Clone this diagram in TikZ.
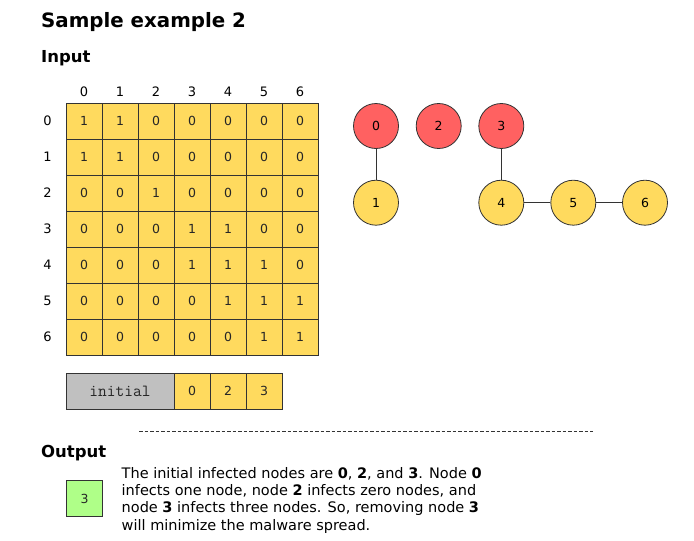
\documentclass[tikz,border=0pt]{standalone}
\usepackage{fontspec}
\setmainfont{DejaVu Sans}
\definecolor{cellyellow}{HTML}{FFDA5E}
\definecolor{nodered}{HTML}{FF6161}
\definecolor{cellgrey}{HTML}{C0C0C0}
\definecolor{cellgreen}{HTML}{AFFF88}
\definecolor{edgecol}{HTML}{333333}
\begin{document}
\begin{tikzpicture}[x=1pt,y=-1pt,
  cell/.style={draw=edgecol,line width=0.9pt,fill=cellyellow,minimum width=36pt,minimum height=36pt,inner sep=0pt,font=\fontsize{12.5}{12.5}\selectfont,text=black!85},
  lbl/.style={inner sep=0pt,font=\fontsize{13}{13}\selectfont},
  gnode/.style={circle,draw=edgecol,line width=0.8pt,minimum size=45pt,inner sep=0pt,font=\fontsize{12.5}{12.5}\selectfont},
  red/.style={gnode,fill=nodered},
  yel/.style={gnode,fill=cellyellow},
  edge/.style={draw=edgecol,line width=0.9pt},
  heading/.style={anchor=base west,inner sep=0pt,font=\bfseries\fontsize{16.5}{16.5}\selectfont}]
\useasboundingbox (0,0) rectangle (694,541);
\node[anchor=base west,inner sep=0pt,font=\bfseries\fontsize{19.8}{20}\selectfont] (title) at (41,27.5) {Sample example 2};
\node[heading] (input) at (41,62.5) {Input};
% row and column labels
\foreach \c in {0,...,6}{
  \node[lbl] (col\c) at (84+36*\c,91.5) {\c};
  \node[lbl] (row\c) at (47.5,121+36*\c) {\c};
}
% matrix
\foreach \r/\vals in {0/{1,1,0,0,0,0,0},1/{1,1,0,0,0,0,0},2/{0,0,1,0,0,0,0},3/{0,0,0,1,1,0,0},4/{0,0,0,1,1,1,0},5/{0,0,0,0,1,1,1},6/{0,0,0,0,0,1,1}}{
  \foreach \v [count=\ci from 0] in \vals {
    \node[cell] (m\r\ci) at (84+36*\ci,121+36*\r) {\v};
  }
}
% graph
\node[red] (g0) at (376,126) {0};
\node[red] (g2) at (438.7,126) {2};
\node[red] (g3) at (501.3,126) {3};
\node[yel] (g1) at (376,202.7) {1};
\node[yel] (g4) at (501.3,202.7) {4};
\node[yel] (g5) at (573.3,202.7) {5};
\node[yel] (g6) at (645,202.7) {6};
\draw[edge] (g0) -- (g1);
\draw[edge] (g3) -- (g4);
\draw[edge] (g4) -- (g5);
\draw[edge] (g5) -- (g6);
% initial row
\node[cell,fill=cellgrey,minimum width=108pt,font=\ttfamily\fontsize{17}{17}\selectfont] (init) at (120,391) {initial};
\node[cell] (i0) at (192,391) {0};
\node[cell] (i1) at (228,391) {2};
\node[cell] (i2) at (264,391) {3};
% separator
\coordinate (sepL) at (139,431);
\coordinate (sepR) at (593,431);
\draw[black!80,line width=0.7pt,dash pattern=on 3.5pt off 2pt] (sepL) -- (sepR);
% output
\node[heading] (output) at (41,457) {Output};
\node[cell,fill=cellgreen] (out) at (84.7,498.7) {3};
\node[anchor=north west,inner sep=0pt,align=left,font=\fontsize{14.5}{17.3}\selectfont] (expl) at (121.5,467)
 {The initial infected nodes are \textbf{0}, \textbf{2}, and \textbf{3}. Node \textbf{0}\\
  infects one node, node \textbf{2} infects zero nodes, and\\
  node \textbf{3} infects three nodes. So, removing node \textbf{3}\\
  will minimize the malware spread.};
\end{tikzpicture}
\end{document}
